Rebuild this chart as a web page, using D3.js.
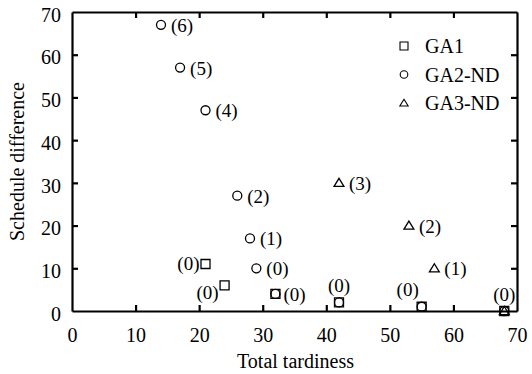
<!DOCTYPE html>
<html>
<head>
<meta charset="utf-8">
<script src="https://cdn.jsdelivr.net/npm/d3@7"></script>
<style>
  body { margin: 0; background: #fff; }
  svg text { font-family: "Liberation Serif", "Times New Roman", serif; fill: #000; }
</style>
</head>
<body>
<figure id="graph" style="margin:0"></figure>
<script>
// series data: [tardiness, difference, label]
const ga1 = [[21, 11, '(0)'], [24, 6, '(0)'], [32, 4, '(0)'], [42, 2, '(0)'], [55, 1, '(0)'], [68, 0, '(0)']];
const ga2 = [[14, 67, '(6)'], [17, 57, '(5)'], [21, 47, '(4)'], [26, 27, '(2)'], [28, 17, '(1)'], [29, 10, '(0)'], [32, 4, ''], [42, 2, ''], [55, 1, ''], [68, 0, '']];
const ga3 = [[42, 30, '(3)'], [53, 20, '(2)'], [57, 10, '(1)'], [68, 0, '']];
const seriesNames = ['GA1', 'GA2-ND', 'GA3-ND'];
const xTicks = [0, 10, 20, 30, 40, 50, 60, 70];
const yTicks = [0, 10, 20, 30, 40, 50, 60, 70];

// where each GA1 label sits relative to its marker
const ga1LabelPos = ['left', 'leftBelow', 'right', 'above', 'aboveLeft', 'above'];

const W = 532, H = 374;
const margin = { left: 72, right: 15, top: 12, bottom: 63 };
const width = W - margin.left - margin.right;
const height = H - margin.top - margin.bottom;

const svg = d3.select('figure#graph').append('svg')
  .attr('width', W).attr('height', H);
const g = svg.append('g').attr('transform', `translate(${margin.left}, ${margin.top})`);

const x = d3.scaleLinear().domain([0, 70]).range([0, width]);
const y = d3.scaleLinear().domain([0, 70]).range([height, 0]);

// axes: ticks inside on all four sides
const tl = 6;
const xAxis = g.append('g').attr('transform', `translate(0, ${height})`)
  .call(d3.axisBottom(x).tickValues(xTicks).tickSizeInner(-tl).tickSizeOuter(0).tickPadding(17));
const yAxis = g.append('g')
  .call(d3.axisLeft(y).tickValues(yTicks).tickSizeInner(-tl).tickSizeOuter(0).tickPadding(11));
g.append('g')
  .call(d3.axisTop(x).tickValues(xTicks).tickSizeInner(-tl).tickSizeOuter(0).tickFormat(''));
g.append('g').attr('transform', `translate(${width}, 0)`)
  .call(d3.axisRight(y).tickValues(yTicks).tickSizeInner(-tl).tickSizeOuter(0).tickFormat(''));

[xAxis, yAxis].forEach(a => a.attr('font-size', 20).attr('font-family', '"Liberation Serif", serif'));
yAxis.selectAll('.tick text').attr('dy', '0.46em');

g.selectAll('.domain').attr('stroke', '#000').attr('stroke-width', 2.2);
g.selectAll('.tick line').attr('stroke', '#000').attr('stroke-width', 2.2);
g.selectAll('.tick text').attr('fill', '#000');
// hide end ticks that sit on frame corners
g.selectAll('.tick').filter(d => d === 0 || d === 70).select('line').attr('display', 'none');

// axis titles
svg.append('text')
  .attr('x', margin.left + width / 2 + 1).attr('y', 368)
  .attr('text-anchor', 'middle').style('font-size', '20px')
  .text('Total tardiness');
svg.append('text')
  .attr('transform', `translate(24, ${margin.top + height / 2}) rotate(-90)`)
  .attr('text-anchor', 'middle').style('font-size', '20px')
  .text('Schedule difference');

// marker shapes
const sq = s => `M${-s},${-s}H${s}V${s}H${-s}Z`;
const tri = s => `M0,${-s}L${s * 1.1},${s * 0.8}L${-s * 1.1},${s * 0.8}Z`;

function drawSquares(data, s) {
  g.selectAll(null).data(data).enter().append('path')
    .attr('d', sq(s))
    .attr('transform', d => `translate(${x(d[0])}, ${y(d[1])})`)
    .attr('fill', 'none').attr('stroke', '#000').attr('stroke-width', 1.3);
}
function drawCircles(data, r) {
  g.selectAll(null).data(data).enter().append('circle')
    .attr('cx', d => x(d[0])).attr('cy', d => y(d[1])).attr('r', r)
    .attr('fill', 'none').attr('stroke', '#000').attr('stroke-width', 1.3);
}
function drawTriangles(data, s) {
  g.selectAll(null).data(data).enter().append('path')
    .attr('d', tri(s))
    .attr('transform', d => `translate(${x(d[0])}, ${y(d[1])})`)
    .attr('fill', 'none').attr('stroke', '#000').attr('stroke-width', 1.3);
}

drawSquares(ga1, 4.5);
drawCircles(ga2, 4.5);
drawTriangles(ga3, 4.5);

// point labels
const lab = (px, py, t, anchor) => g.append('text')
  .attr('x', px).attr('y', py).attr('text-anchor', anchor || 'start')
  .style('font-size', '19px').text(t);

ga2.concat(ga3).filter(d => d[2]).forEach(d => lab(x(d[0]) + 10, y(d[1]) + 7, d[2]));

ga1.forEach((d, i) => {
  const px = x(d[0]), py = y(d[1]);
  const p = ga1LabelPos[i];
  if (p === 'left') lab(px - 6, py + 6, d[2], 'end');
  else if (p === 'leftBelow') lab(px - 6, py + 14, d[2], 'end');
  else if (p === 'right') lab(px + 8, py + 7, d[2]);
  else if (p === 'above') lab(px, py - 10, d[2], 'middle');
  else if (p === 'aboveLeft') lab(px - 14, py - 11, d[2], 'middle');
});

// legend
const legend = svg.append('g').attr('transform', 'translate(404, 46)');
seriesNames.forEach((name, i) => {
  const row = legend.append('g').attr('transform', `translate(0, ${i * 28.5})`);
  if (i === 0) row.append('path').attr('d', sq(4));
  else if (i === 1) row.append('circle').attr('r', 3.8);
  else row.append('path').attr('d', tri(3.8));
  row.select(':first-child').attr('fill', 'none').attr('stroke', '#000').attr('stroke-width', 1.1);
  row.append('text').attr('x', 21).attr('y', 7).style('font-size', '20px').text(name);
});
</script>
</body>
</html>
